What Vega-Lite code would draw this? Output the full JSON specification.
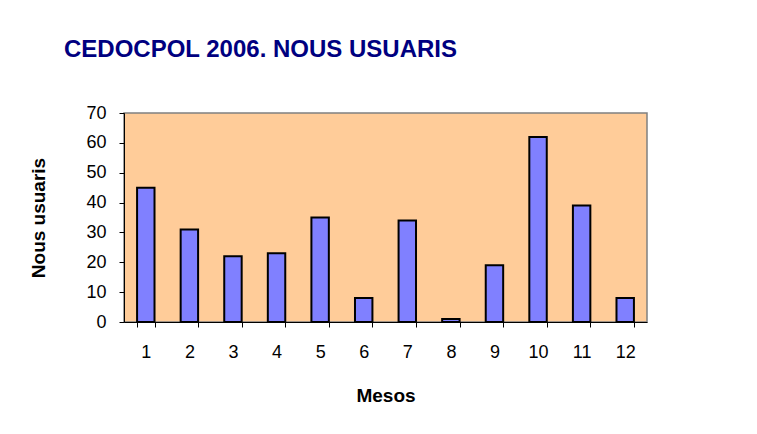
{
  "$schema": "https://vega.github.io/schema/vega-lite/v6.json",
  "width": 523,
  "height": 209,
  "autosize": {"type": "none"},
  "padding": {"left": 124, "top": 113, "right": 110, "bottom": 112},
  "background": "white",
  "title": {
    "text": "CEDOCPOL 2006. NOUS USUARIS",
    "anchor": "start",
    "frame": "group",
    "font": "Liberation Sans",
    "fontSize": 24,
    "fontWeight": "bold",
    "color": "#000080",
    "dx": -60,
    "offset": 42
  },
  "data": {
    "values": [
      {"mes": "1", "usuaris": 45},
      {"mes": "2", "usuaris": 31},
      {"mes": "3", "usuaris": 22},
      {"mes": "4", "usuaris": 23},
      {"mes": "5", "usuaris": 35},
      {"mes": "6", "usuaris": 8},
      {"mes": "7", "usuaris": 34},
      {"mes": "8", "usuaris": 1},
      {"mes": "9", "usuaris": 19},
      {"mes": "10", "usuaris": 62},
      {"mes": "11", "usuaris": 39},
      {"mes": "12", "usuaris": 8}
    ]
  },
  "mark": {"type": "bar", "color": "#8080FF", "stroke": "#000000", "strokeWidth": 2},
  "encoding": {
    "x": {
      "field": "mes",
      "type": "ordinal",
      "sort": null,
      "scale": {"paddingInner": 0.6, "paddingOuter": 0.3},
      "axis": {
        "title": "Mesos",
        "labelAngle": 0,
        "tickBand": "extent",
        "labelPadding": 16,
        "titlePadding": 25
      }
    },
    "y": {
      "field": "usuaris",
      "type": "quantitative",
      "scale": {"domain": [0, 70], "nice": false},
      "axis": {
        "title": "Nous usuaris",
        "values": [0, 10, 20, 30, 40, 50, 60, 70],
        "grid": false,
        "labelPadding": 13,
        "titlePadding": 37
      }
    }
  },
  "config": {
    "font": "Liberation Sans",
    "view": {"fill": "#FFCC99", "stroke": "#808080", "strokeWidth": 1.5},
    "axis": {
      "domainColor": "#000000",
      "domainWidth": 1,
      "tickColor": "#000000",
      "tickSize": 5,
      "labelColor": "#000000",
      "labelFontSize": 18,
      "titleColor": "#000000",
      "titleFontSize": 19,
      "titleFontWeight": "bold"
    }
  }
}
